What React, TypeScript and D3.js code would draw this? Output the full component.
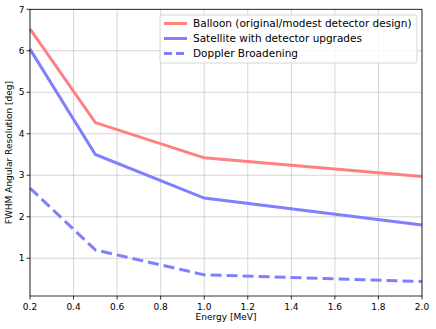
import React from "react";
import * as d3 from "d3";

const energies = [0.2, 0.5, 1.0, 2.0];
const balloon = [6.53, 4.27, 3.42, 2.97];
const satellite = [6.04, 3.5, 2.45, 1.8];
const doppler = [2.69, 1.2, 0.6, 0.44];
const xTicks = [0.2, 0.4, 0.6, 0.8, 1.0, 1.2, 1.4, 1.6, 1.8, 2.0];
const yTicks = [1, 2, 3, 4, 5, 6, 7];

const series = [
  { label: "Balloon (original/modest detector design)", values: balloon, color: "#ff8080", dash: "" },
  { label: "Satellite with detector upgrades", values: satellite, color: "#8080ff", dash: "" },
  { label: "Doppler Broadening", values: doppler, color: "#8080ff", dash: "11,5" },
];

const W = 436;
const H = 329;
const left = 30;
const right = 422;
const top = 9.3;
const bottom = 296;
const font = "DejaVu Sans, sans-serif";

export default function App() {
  const x = d3.scaleLinear().domain([0.2, 2.0]).range([left, right]);
  const y = d3.scaleLinear().domain([0.09, 7]).range([bottom, top]);
  const line = d3
    .line<number>()
    .x((_, i) => x(energies[i]))
    .y((d) => y(d));

  return (
    <svg width={W} height={H} style={{ position: "absolute", left: 0, top: 0 }}>
      <rect x={0} y={0} width={W} height={H} fill="#fff" />
      {xTicks.map((t) => (
        <line key={"gx" + t} x1={x(t)} x2={x(t)} y1={top} y2={bottom} stroke="#b0b0b0" strokeOpacity={0.5} strokeWidth={1} />
      ))}
      {yTicks.map((t) => (
        <line key={"gy" + t} x1={left} x2={right} y1={y(t)} y2={y(t)} stroke="#b0b0b0" strokeOpacity={0.5} strokeWidth={1} />
      ))}
      {series.map((s) => (
        <path
          key={s.label}
          d={line(s.values) || ""}
          fill="none"
          stroke={s.color}
          strokeWidth={3}
          strokeDasharray={s.dash}
        />
      ))}
      <rect x={left} y={top} width={right - left} height={bottom - top} fill="none" stroke="#000" strokeWidth={0.8} />
      {xTicks.map((t) => (
        <g key={"tx" + t}>
          <line x1={x(t)} x2={x(t)} y1={bottom} y2={bottom + 3.5} stroke="#000" strokeWidth={0.8} />
          <text x={x(t)} y={bottom + 13.5} textAnchor="middle" fontFamily={font} fontSize={9} fill="#000">
            {t.toFixed(1)}
          </text>
        </g>
      ))}
      {yTicks.map((t) => (
        <g key={"ty" + t}>
          <line x1={left - 3.5} x2={left} y1={y(t)} y2={y(t)} stroke="#000" strokeWidth={0.8} />
          <text x={left - 5.5} y={y(t) + 3.2} textAnchor="end" fontFamily={font} fontSize={9} fill="#000">
            {t}
          </text>
        </g>
      ))}
      <text x={(left + right) / 2} y={320} textAnchor="middle" fontFamily={font} fontSize={9} fill="#000">
        Energy [MeV]
      </text>
      <text
        transform={`translate(12,${(top + bottom) / 2}) rotate(-90)`}
        textAnchor="middle"
        fontFamily={font}
        fontSize={9}
        fill="#000"
      >
        FWHM Angular Resolution [deg]
      </text>
      <g>
        <rect x={160} y={15} width={257} height={48} rx={2} fill="#fff" fillOpacity={0.8} stroke="#cccccc" strokeWidth={0.8} />
        {series.map((s, i) => (
          <g key={"lg" + i}>
            <line x1={164} x2={187} y1={23.5 + i * 15} y2={23.5 + i * 15} stroke={s.color} strokeWidth={3} strokeDasharray={s.dash ? "8,4" : ""} />
            <text x={193} y={27 + i * 15} fontFamily={font} fontSize={10.5} fill="#000">
              {s.label}
            </text>
          </g>
        ))}
      </g>
    </svg>
  );
}
